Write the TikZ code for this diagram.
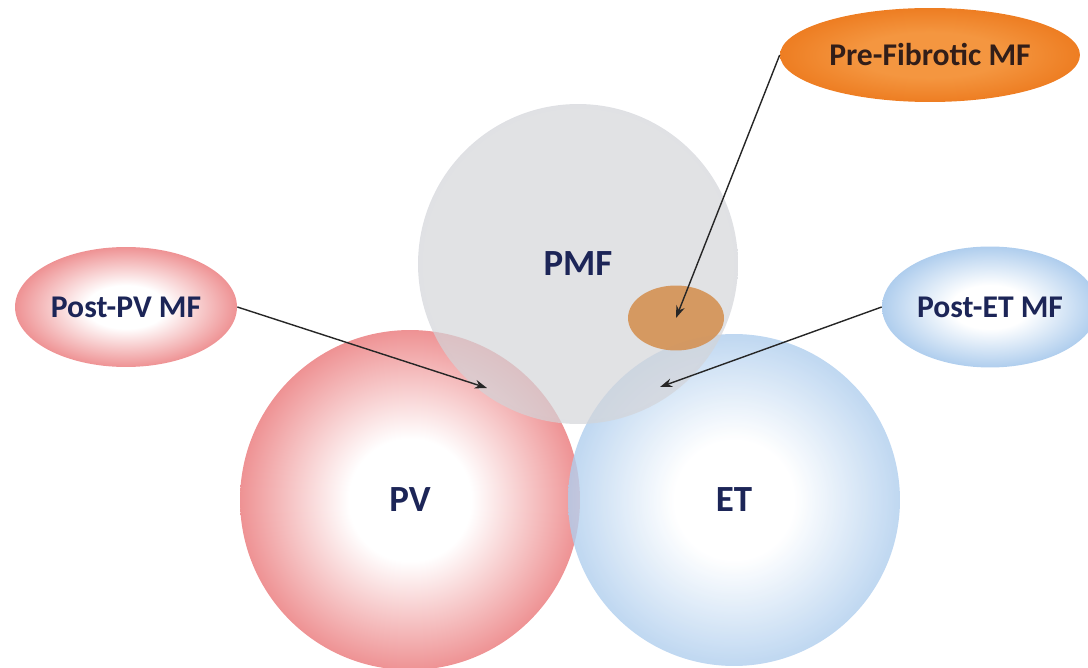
\documentclass[tikz,border=0pt]{standalone}
\usepackage{fontspec}
\setmainfont{Carlito}
\usetikzlibrary{arrows.meta}
\usetikzlibrary{shapes.geometric}

\definecolor{pvred}{RGB}{233,112,114}
\definecolor{etblue}{RGB}{150,190,232}
\definecolor{pmfgray}{RGB}{192,194,200}
\definecolor{pmflight}{RGB}{212,213,217}
\definecolor{fibrange}{RGB}{234,112,18}
\definecolor{fiblight}{RGB}{244,150,64}
\definecolor{coreorange}{RGB}{212,146,84}
\definecolor{navy}{RGB}{28,37,87}
\definecolor{darkbrown}{RGB}{50,30,25}

\pgfdeclareradialshading{pvglow}{\pgfpoint{0bp}{0bp}}{color(0bp)=(white); color(9bp)=(white); color(30bp)=(pvred); color(50bp)=(pvred)}
\pgfdeclareradialshading{etglow}{\pgfpoint{0bp}{0bp}}{color(0bp)=(white); color(9bp)=(white); color(30bp)=(etblue); color(50bp)=(etblue)}
\pgfdeclareradialshading{pmfglow}{\pgfpoint{0bp}{0bp}}{color(0bp)=(pmflight); color(24bp)=(pmflight); color(36bp)=(pmfgray); color(50bp)=(pmfgray)}
\pgfdeclareradialshading{fibglow}{\pgfpoint{0bp}{0bp}}{color(0bp)=(fiblight); color(12bp)=(fiblight); color(32bp)=(fibrange); color(50bp)=(fibrange)}

\begin{document}
\begin{tikzpicture}[x=0.02cm,y=-0.02cm,
  blob/.style={circle,inner sep=0pt,text opacity=1,font=\bfseries\fontsize{21}{25}\selectfont,text=navy},
  tag/.style={ellipse,inner sep=0pt,text opacity=1,font=\bfseries\fontsize{18}{21}\selectfont,text=navy},
  ptr/.style={-{Stealth[length=7pt,width=5pt]},line width=0.8pt,black!85}]
  \useasboundingbox (0,0) rectangle (1088,668);
  % the three big circles
  \node[blob,minimum size=6.8cm,shading=pvglow] (PV) at (410,500) {PV};
  \node[blob,minimum size=6.64cm,shading=etglow,fill opacity=0.8] (ET) at (734,500) {ET};
  \node[blob,minimum size=6.4cm,shading=pmfglow,fill opacity=0.7] (PMF) at (578,264) {PMF};
  \node[ellipse,minimum width=1.92cm,minimum height=1.3cm,fill=coreorange,fill opacity=0.9] (core) at (676,318) {};
  % the labels outside
  \node[tag,minimum width=6cm,minimum height=1.88cm,shading=fibglow,text=darkbrown] (prefib) at (930,55) {Pre-Fibrotic MF};
  \node[tag,minimum width=4.44cm,minimum height=2.4cm,shading=pvglow] (postpv) at (126,307) {Post-PV MF};
  \node[tag,minimum width=4.32cm,minimum height=2.42cm,shading=etglow] (postet) at (990,307) {Post-ET MF};
  \coordinate (pvtip) at (487,388);
  \coordinate (ettip) at (660,387);
  \draw[ptr] (postpv.east) -- (pvtip);
  \draw[ptr] (postet.west) -- (ettip);
  \draw[ptr] (prefib.west) -- (core.center);
\end{tikzpicture}
\end{document}
